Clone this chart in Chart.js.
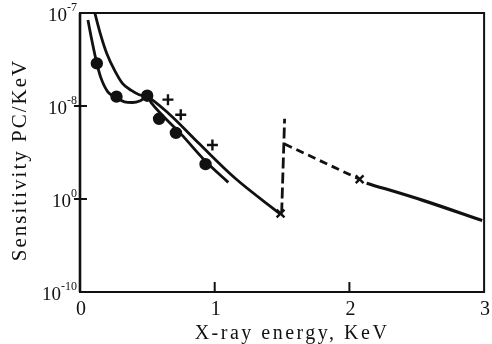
<!DOCTYPE html>
<html>
<head>
<meta charset="utf-8">
<script src="https://cdn.jsdelivr.net/npm/chart.js@4"></script>
<style>
html,body{margin:0;padding:0;background:#fff}
</style>
</head>
<body>
<canvas id="chart" width="492" height="344"></canvas>
<script>

/* AXIS TICKS */

const energyTicks = [0, 1, 2, 3]
const sensTicks = [1e-10, 1e-9, 1e-8, 1e-7]
const sensTickExp = ["-10", "0", "-8", "-7"]

/* CURVES (energy keV, sensitivity PC/keV) */

const upperEnergy = [0.110, 0.154, 0.198, 0.257, 0.315, 0.381, 0.440, 0.499, 0.660, 0.880, 1.152, 1.482]
const upperSens = [1.00e-7, 5.78e-8, 3.69e-8, 2.41e-8, 1.75e-8, 1.47e-8, 1.32e-8, 1.26e-8, 8.26e-9, 4.0e-9, 1.67e-9, 6.98e-10]

const lowerEnergy = [0.059, 0.088, 0.125, 0.154, 0.205, 0.271, 0.330, 0.389, 0.448, 0.499, 0.528, 0.756, 0.932, 1.101]
const lowerSens = [8.39e-8, 5.09e-8, 2.87e-8, 2.03e-8, 1.43e-8, 1.23e-8, 1.11e-8, 1.09e-8, 1.14e-8, 1.26e-8, 1.09e-8, 4.89e-9, 2.55e-9, 1.51e-9]

const edgeEnergy = [1.497, 1.519]
const edgeSens = [6.98e-10, 7.28e-9]

const dashEnergy = [1.519, 2.076]
const dashSens = [3.9e-9, 1.63e-9]

const tailEnergy = [2.128, 2.546, 2.986]
const tailSens = [1.48e-9, 9.66e-10, 5.86e-10]

/* MARKERS */

const dotEnergy = [0.125, 0.271, 0.499, 0.587, 0.712, 0.932]
const dotSens = [2.87e-8, 1.26e-8, 1.29e-8, 7.28e-9, 5.14e-9, 2.37e-9]

const plusEnergy = [0.653, 0.748, 0.983]
const plusSens = [1.17e-8, 8.05e-9, 3.81e-9]

const xMarkEnergy = [1.489, 2.076]
const xMarkSens = [6.98e-10, 1.63e-9]


const ink = "#111"
const serif = "'Liberation Serif', 'DejaVu Serif', serif"

function pts(xs, ys){
return xs.map((v, i) => ({x: v, y: ys[i]}))
}

function line(xs, ys, extra){
return Object.assign({
data: pts(xs, ys),
showLine: true,
borderColor: ink,
borderWidth: 2.8,
pointRadius: 0,
cubicInterpolationMode: "monotone",
fill: false
}, extra || {})
}

function marks(xs, ys, style, r){
return {
data: pts(xs, ys),
showLine: false,
pointStyle: style,
pointRadius: r,
borderColor: ink,
backgroundColor: ink,
borderWidth: 2.4
}
}


/* FRAME, INWARD TICKS, LABELS */

const decor = {
id: "decor",
afterDraw(chart){
const {ctx, chartArea: a, scales: {x, y}} = chart
ctx.save()
ctx.strokeStyle = ink
ctx.fillStyle = ink
ctx.lineWidth = 2
ctx.strokeRect(a.left, a.top, a.right - a.left, a.bottom - a.top)
ctx.lineWidth = 2.6
ctx.beginPath()
ctx.moveTo(a.left, a.top)
ctx.lineTo(a.left, a.bottom)
ctx.stroke()

ctx.lineWidth = 2
energyTicks.slice(1, -1).forEach(v => {
const px = x.getPixelForValue(v)
ctx.beginPath()
ctx.moveTo(px, a.bottom)
ctx.lineTo(px, a.bottom - 10)
ctx.stroke()
})
sensTicks.slice(1, -1).forEach(v => {
const py = y.getPixelForValue(v)
ctx.beginPath()
ctx.moveTo(a.left - 6, py)
ctx.lineTo(a.left + 7, py)
ctx.stroke()
})

/* x tick labels */
ctx.textBaseline = "middle"
ctx.textAlign = "center"
ctx.font = "20px " + serif
energyTicks.forEach(v => {
ctx.fillText(String(v), x.getPixelForValue(v) + 1, a.bottom + 18)
})

/* y tick labels with exponent */
ctx.textAlign = "left"
sensTicks.forEach((v, i) => {
const py = y.getPixelForValue(v)
ctx.font = "12px " + serif
const ew = ctx.measureText(sensTickExp[i]).width
ctx.font = "19px " + serif
const bw = ctx.measureText("10").width
const right = a.left - 3
ctx.fillText("10", right - ew - bw, py + 3)
ctx.font = "12px " + serif
ctx.fillText(sensTickExp[i], right - ew, py - 5)
})

/* axis titles */
ctx.textAlign = "center"
ctx.font = "20px " + serif
ctx.letterSpacing = "2.5px"
ctx.fillText("X-ray energy, KeV", 292, 334)

ctx.translate(20, 160)
ctx.rotate(-Math.PI / 2)
ctx.font = "21px " + serif
ctx.letterSpacing = "2px"
ctx.fillText("Sensitivity PC/KeV", 0, 0)
ctx.restore()
}
}


/* CHART */

const ctx = document.getElementById("chart").getContext("2d")

const chart = new Chart(ctx, {
type: "scatter",
data: {
datasets: [
marks(dotEnergy, dotSens, "circle", 5),
marks(plusEnergy, plusSens, "cross", 5.5),
marks(xMarkEnergy, xMarkSens, "crossRot", 5.5),
line(upperEnergy, upperSens),
line(lowerEnergy, lowerSens),
line(edgeEnergy, edgeSens, {borderDash: [11, 4], cubicInterpolationMode: "default", tension: 0}),
line(dashEnergy, dashSens, {borderDash: [8, 5], cubicInterpolationMode: "default", tension: 0}),
line(tailEnergy, tailSens, {borderWidth: 3.2})
]
},
options: {
responsive: false,
devicePixelRatio: 1,
animation: false,
layout: {padding: {top: 13, right: 3, left: 0, bottom: 0}},
plugins: {
legend: {display: false},
tooltip: {enabled: false}
},
scales: {
x: {
type: "linear",
min: 0,
max: 3,
afterBuildTicks: s => { s.ticks = energyTicks.map(v => ({value: v})) },
afterFit: s => { s.height = 52 },
grid: {display: false, drawTicks: false},
border: {display: false},
ticks: {display: false}
},
y: {
type: "logarithmic",
min: 1e-10,
max: 1e-7,
afterBuildTicks: s => { s.ticks = sensTicks.map(v => ({value: v})) },
afterFit: s => { s.width = 80 },
grid: {display: false, drawTicks: false},
border: {display: false},
ticks: {display: false}
}
}
},
plugins: [decor]
})

</script>
</body>
</html>
